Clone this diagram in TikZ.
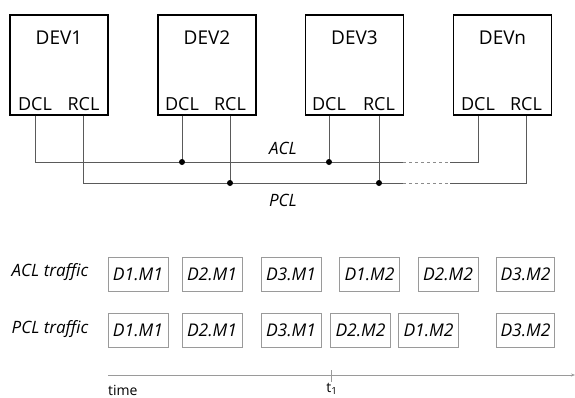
\documentclass[tikz,border=0pt]{standalone}
\usepackage{fontspec}
\setmainfont{Open Sans}
\usetikzlibrary{arrows.meta}
\usetikzlibrary{positioning}

\definecolor{colorLine}{HTML}{5A5A5A}
\definecolor{colorBox}{HTML}{9A9A9A}
\definecolor{colorText}{HTML}{000000}

\tikzset{
    devbox/.style = {draw=black, line width=1.1pt, minimum width=98pt, minimum height=100pt, inner sep=0pt},
    devtitle/.style = {inner sep=0pt, text=colorText, font=\fontsize{19pt}{21pt}\selectfont},
    portlbl/.style = {inner sep=0pt, text=colorText, font=\fontsize{18pt}{20pt}\selectfont},
    bus/.style = {draw=colorLine, line width=0.9pt},
    busgap/.style = {draw=colorLine!70, line width=0.9pt, dash pattern=on 3pt off 3pt},
    msgbox/.style = {draw=colorBox, line width=0.7pt, minimum width=60pt, minimum height=34pt, inner sep=0pt,
        text=colorText, font=\fontsize{17.5pt}{19pt}\selectfont\itshape},
    rowlbl/.style = {inner sep=0pt, text=colorText, font=\fontsize{17pt}{19pt}\selectfont\itshape},
    axislbl/.style = {inner sep=0pt, text=colorText, font=\fontsize{14pt}{16pt}\selectfont}
}

\begin{document}
\begin{tikzpicture}[x=1pt, y=-1pt]

    \useasboundingbox (0,0) rectangle (575,397);

    % Appareils
    \node[devbox] (dev1) at (59,65) {};
    \node[devbox] (dev2) at (207,65) {};
    \node[devbox] (dev3) at (354.5,65) {};
    \node[devbox] (devn) at (502.5,65) {};

    \node[devtitle] (dev1t) at (59,38) {DEV1};
    \node[devtitle] (dev2t) at (207,38) {DEV2};
    \node[devtitle] (dev3t) at (354.5,38) {DEV3};
    \node[devtitle] (devnt) at (502.5,38) {DEVn};

    % Ports
    \node[portlbl] (dev1dcl) at (35,104) {DCL};
    \node[portlbl] (dev1rcl) at (83.5,104) {RCL};
    \node[portlbl] (dev2dcl) at (182,104) {DCL};
    \node[portlbl] (dev2rcl) at (230,104) {RCL};
    \node[portlbl] (dev3dcl) at (329,104) {DCL};
    \node[portlbl] (dev3rcl) at (379,104) {RCL};
    \node[portlbl] (devndcl) at (478,104) {DCL};
    \node[portlbl] (devnrcl) at (526,104) {RCL};

    % Bus ACL / PCL
    \coordinate (acl) at (0,162);
    \coordinate (pcl) at (0,183);
    \coordinate (gapa) at (403,162);
    \coordinate (gapb) at (450,162);
    \coordinate (gapc) at (403,183);
    \coordinate (gapd) at (450,183);

    \draw[bus] (dev1.south -| dev1dcl) |- (gapa);
    \draw[busgap] (gapa) -- (gapb);
    \draw[bus] (gapb) -| (devn.south -| devndcl);
    \draw[bus] (dev2.south -| dev2dcl) -- (acl -| dev2dcl);
    \draw[bus] (dev3.south -| dev3dcl) -- (acl -| dev3dcl);

    \draw[bus] (dev1.south -| dev1rcl) |- (gapc);
    \draw[busgap] (gapc) -- (gapd);
    \draw[bus] (gapd) -| (devn.south -| devnrcl);
    \draw[bus] (dev2.south -| dev2rcl) -- (pcl -| dev2rcl);
    \draw[bus] (dev3.south -| dev3rcl) -- (pcl -| dev3rcl);

    \fill[colorText] (acl -| dev2dcl) circle (3pt);
    \fill[colorText] (acl -| dev3dcl) circle (3pt);
    \fill[colorText] (pcl -| dev2rcl) circle (3pt);
    \fill[colorText] (pcl -| dev3rcl) circle (3pt);

    \node[rowlbl] (acllbl) at (283,148) {ACL};
    \node[rowlbl] (pcllbl) at (283,200) {PCL};

    % Trafic
    \node[rowlbl] (acltraffic) at (50,272) {ACL traffic};
    \node[rowlbl] (pcltraffic) at (50,329) {PCL traffic};

    \node[msgbox] (a1) at (138,274) {D1.M1};
    \node[msgbox] (a2) at (212,274) {D2.M1};
    \node[msgbox] (a3) at (291,274) {D3.M1};
    \node[msgbox] (a4) at (369.5,274) {D1.M2};
    \node[msgbox] (a5) at (448,274) {D2.M2};
    \node[msgbox, minimum width=58pt] (a6) at (525.5,274) {D3.M2};

    \node[msgbox] (p1) at (138,330) {D1.M1};
    \node[msgbox] (p2) at (212,330) {D2.M1};
    \node[msgbox] (p3) at (291,330) {D3.M1};
    \node[msgbox] (p4) at (360.5,330) {D2.M2};
    \node[msgbox] (p5) at (428.5,330) {D1.M2};
    \node[msgbox, minimum width=58pt] (p6) at (525.5,330) {D3.M2};

    % Axe du temps
    \coordinate (tstart) at (108,375);
    \coordinate (tend) at (575,375);
    \coordinate (t1) at (331,375);
    \draw[colorBox, line width=0.8pt, -{Stealth[length=4pt, width=3pt]}] (tstart) -- (tend);
    \draw[colorBox, line width=0.8pt] ([yshift=-7pt]t1) -- ([yshift=5pt]t1);
    \node[axislbl, anchor=west] (timelbl) at (108,390) {time};
    \node[axislbl] (t1lbl) at (332,389) {t\textsubscript{1}};

\end{tikzpicture}
\end{document}
